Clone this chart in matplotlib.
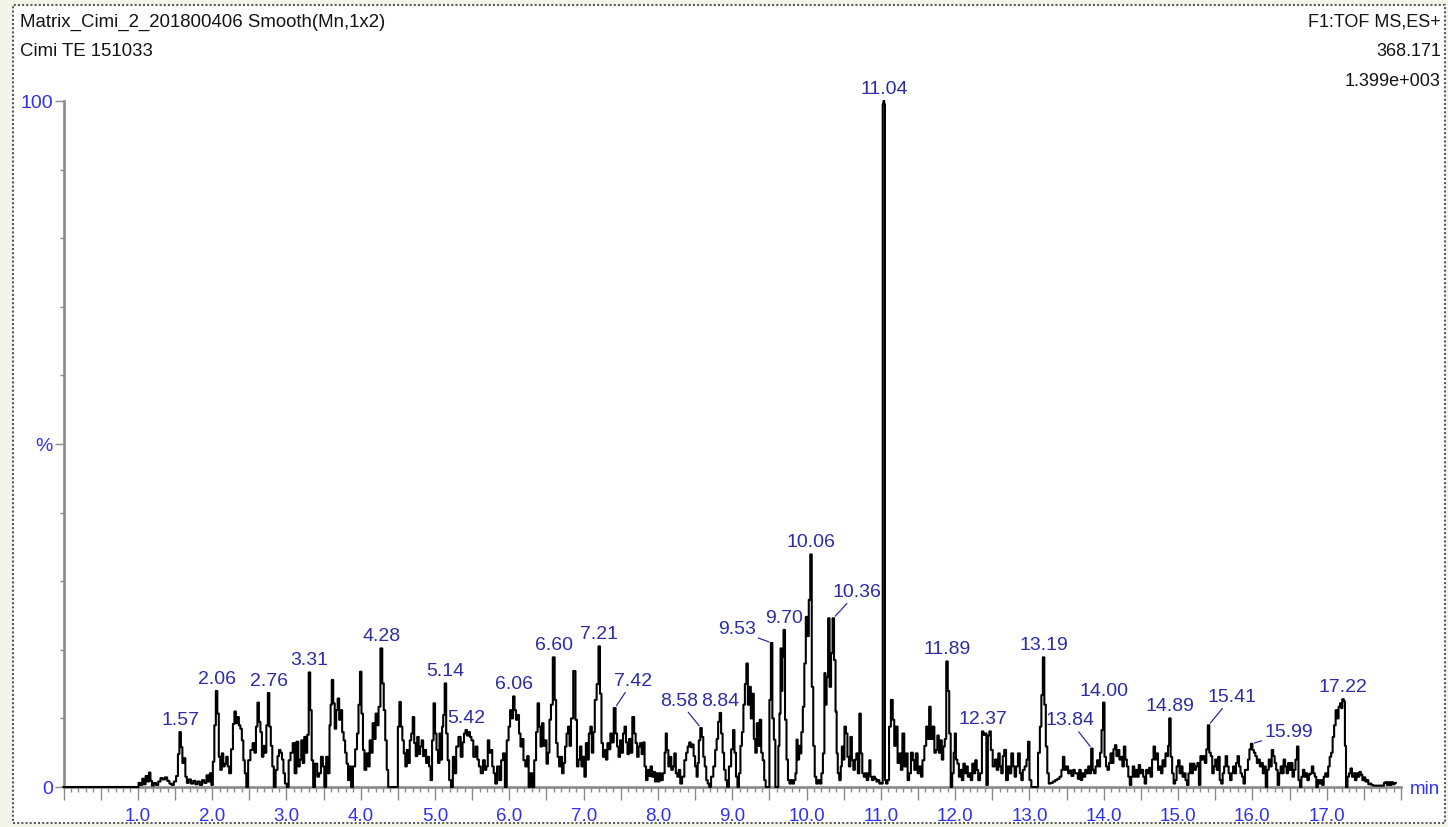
import matplotlib
matplotlib.use('Agg')
import numpy as np
import matplotlib.pyplot as plt
from matplotlib.ticker import MultipleLocator, FuncFormatter
from matplotlib.patches import Rectangle

plt.rcParams['font.family'] = ['Liberation Sans', 'DejaVu Sans']

# Header lines of the chromatogram
title_left = ['Matrix_Cimi_2_201800406 Smooth(Mn,1x2)', 'Cimi TE 151033']
title_right = ['F1:TOF MS,ES+', '368.171', '1.399e+003']

# Labelled peaks: retention time (min) and relative intensity (%)
peak_rt = [1.57, 2.06, 2.76, 3.31, 4.28, 5.14, 5.42, 6.06, 6.60, 7.21, 7.42, 8.58, 8.84,
           9.53, 9.70, 10.06, 10.36, 11.04, 11.89, 12.37, 13.19, 13.84, 14.00, 14.89,
           15.41, 15.99, 17.22]
peak_pct = [8.0, 14.0, 13.7, 16.7, 20.2, 15.1, 8.3, 13.2, 18.9, 20.5, 11.5, 8.6, 10.8,
            21.0, 22.9, 33.9, 24.6, 100.0, 18.3, 8.1, 18.9, 5.6, 12.3, 10.0,
            9.0, 6.3, 12.8]

# Trace between the labelled peaks, (min, %)
seg_0_2 = [(0.00, 0), (1.00, 0), (1.02, 0.6), (1.05, 0.3), (1.07, 1.2), (1.09, 0.4), (1.12, 1.6),
           (1.14, 0.8), (1.16, 2.1), (1.18, 0.9), (1.20, 0.2), (1.23, 0.6), (1.26, 0.3), (1.29, 0.8),
           (1.32, 1.3), (1.35, 1.1), (1.38, 1.4), (1.41, 0.9), (1.44, 0.5), (1.47, 0.3), (1.50, 0.8),
           (1.53, 1.6), (1.55, 4.8), (1.59, 5.8), (1.61, 3.5), (1.63, 4.2), (1.65, 1.5), (1.67, 0.6),
           (1.70, 1.1), (1.73, 0.5), (1.76, 0.9), (1.79, 0.4), (1.82, 0.8), (1.85, 0.3), (1.88, 1.0),
           (1.91, 0.6), (1.94, 1.7), (1.96, 0.8), (1.98, 2.0), (2.00, 0.3)]

seg_2_4 = [(2.02, 3.7), (2.04, 9.0), (2.08, 10.7), (2.10, 4.4), (2.12, 2.5), (2.14, 4.9), (2.16, 3.0),
           (2.18, 3.4), (2.20, 4.4), (2.22, 3.0), (2.24, 2.0), (2.27, 5.5), (2.29, 9.2), (2.31, 11.0),
           (2.33, 9.3), (2.35, 10.2), (2.37, 9.0), (2.39, 8.5), (2.41, 6.8), (2.43, 3.9), (2.45, 2.0),
           (2.47, 0.0), (2.50, 3.9), (2.53, 5.4), (2.56, 6.4), (2.58, 5.0), (2.60, 8.8), (2.62, 12.3),
           (2.64, 9.5), (2.66, 8.0), (2.68, 4.4), (2.70, 6.0), (2.72, 5.0), (2.74, 9.0), (2.78, 8.8),
           (2.80, 6.0), (2.82, 3.0), (2.84, 0.0), (2.87, 2.5), (2.89, 4.5), (2.91, 5.4), (2.93, 5.0),
           (2.95, 4.0), (2.97, 2.0), (2.99, 0.5), (3.02, 0.0), (3.04, 3.9), (3.07, 5.0), (3.10, 6.4),
           (3.12, 2.0), (3.15, 6.6), (3.17, 3.0), (3.19, 4.0), (3.21, 6.8), (3.23, 3.5), (3.25, 7.3),
           (3.27, 5.0), (3.29, 7.6), (3.33, 11.2), (3.35, 3.9), (3.37, 0.0), (3.40, 3.4), (3.43, 1.5),
           (3.45, 2.0), (3.48, 4.4), (3.50, 3.0), (3.52, 0.0), (3.55, 4.4), (3.57, 2.0), (3.59, 9.0),
           (3.60, 12.0), (3.62, 15.6), (3.64, 12.2), (3.66, 8.5), (3.68, 11.2), (3.70, 12.9),
           (3.72, 9.8), (3.74, 11.2), (3.76, 8.0), (3.78, 6.8), (3.80, 5.0), (3.82, 3.4), (3.84, 1.0),
           (3.86, 3.0), (3.88, 0.0), (3.91, 3.0), (3.94, 5.5), (3.96, 7.8), (3.98, 12.0)]

seg_4_6 = [(4.00, 16.8), (4.02, 10.7), (4.04, 5.4), (4.06, 2.5), (4.09, 4.9), (4.11, 3.0), (4.13, 6.8),
           (4.15, 5.0), (4.17, 9.3), (4.19, 7.0), (4.21, 10.7), (4.23, 9.0), (4.25, 11.7), (4.30, 15.1),
           (4.32, 11.2), (4.34, 6.8), (4.36, 2.5), (4.38, 0.0), (4.49, 0.0), (4.51, 8.8), (4.53, 12.4),
           (4.55, 8.8), (4.57, 6.8), (4.59, 4.9), (4.61, 3.0), (4.63, 5.4), (4.65, 3.5), (4.67, 6.8),
           (4.69, 7.8), (4.71, 10.2), (4.73, 6.4), (4.75, 4.5), (4.77, 7.3), (4.79, 4.8), (4.81, 5.9),
           (4.83, 6.8), (4.85, 4.5), (4.87, 5.4), (4.89, 3.5), (4.91, 4.4), (4.93, 3.0), (4.95, 1.0),
           (4.97, 6.8), (4.99, 12.2), (5.01, 7.8), (5.03, 5.4), (5.05, 3.5), (5.07, 7.8), (5.09, 4.0),
           (5.10, 8.8), (5.12, 10.5), (5.16, 7.8), (5.18, 3.9), (5.20, 1.0), (5.23, 0.0), (5.25, 4.4),
           (5.27, 2.0), (5.30, 5.9), (5.33, 7.3), (5.36, 4.4), (5.38, 6.5), (5.40, 7.8), (5.44, 7.5),
           (5.46, 8.0), (5.48, 7.3), (5.50, 6.8), (5.53, 4.4), (5.56, 5.9), (5.58, 4.0), (5.60, 3.0),
           (5.63, 2.0), (5.66, 3.9), (5.68, 2.5), (5.70, 3.0), (5.72, 6.8), (5.74, 5.0), (5.76, 5.4),
           (5.78, 3.0), (5.80, 2.0), (5.82, 0.5), (5.85, 3.0), (5.88, 1.0), (5.90, 3.9), (5.93, 4.9),
           (5.95, 0.0), (5.98, 6.8)]

seg_6_8 = [(6.00, 8.8), (6.02, 11.2), (6.04, 10.0), (6.08, 11.2), (6.10, 9.8), (6.12, 10.5), (6.14, 7.8),
           (6.16, 5.9), (6.18, 7.0), (6.20, 3.9), (6.23, 3.0), (6.25, 4.5), (6.27, 0.0), (6.30, 2.0),
           (6.32, 0.0), (6.35, 3.9), (6.37, 8.0), (6.39, 12.2), (6.41, 8.8), (6.43, 5.9), (6.45, 9.3),
           (6.47, 6.0), (6.49, 6.8), (6.51, 3.4), (6.53, 5.0), (6.55, 9.8), (6.57, 12.0), (6.62, 12.7),
           (6.64, 6.4), (6.66, 4.4), (6.68, 3.0), (6.70, 4.4), (6.72, 2.0), (6.74, 3.5), (6.76, 5.9),
           (6.78, 7.8), (6.80, 8.8), (6.82, 6.0), (6.84, 10.0), (6.88, 16.9), (6.90, 9.8), (6.92, 3.0),
           (6.94, 4.0), (6.96, 5.9), (6.98, 3.0), (7.00, 4.4), (7.02, 1.5), (7.04, 6.4), (7.06, 4.0),
           (7.08, 7.8), (7.10, 8.8), (7.12, 5.0), (7.14, 8.0), (7.16, 12.7), (7.19, 15.0), (7.23, 13.6),
           (7.25, 6.4), (7.27, 4.4), (7.29, 5.4), (7.31, 4.0), (7.33, 6.4), (7.35, 5.5), (7.37, 7.8),
           (7.39, 6.5), (7.44, 7.8), (7.46, 5.9), (7.48, 4.4), (7.50, 6.8), (7.52, 5.0), (7.54, 7.8),
           (7.56, 8.8), (7.58, 6.5), (7.60, 4.8), (7.62, 7.0), (7.64, 5.0), (7.67, 10.2), (7.69, 7.8),
           (7.71, 6.4), (7.73, 4.4), (7.75, 5.9), (7.77, 6.4), (7.79, 4.8), (7.81, 6.5), (7.83, 3.0),
           (7.85, 1.0), (7.87, 2.5), (7.89, 1.6), (7.91, 3.0), (7.93, 1.5), (7.95, 2.2), (7.97, 0.8),
           (7.99, 2.0)]

seg_8_10 = [(8.01, 0.8), (8.03, 2.0), (8.05, 1.0), (8.08, 2.0), (8.10, 5.0), (8.11, 7.8), (8.13, 5.4),
            (8.15, 3.0), (8.17, 4.4), (8.19, 2.5), (8.21, 3.0), (8.23, 4.9), (8.25, 2.0), (8.27, 1.5),
            (8.29, 2.5), (8.31, 0.5), (8.34, 1.5), (8.37, 3.9), (8.39, 5.0), (8.41, 5.9), (8.43, 6.5),
            (8.45, 5.8), (8.47, 6.2), (8.49, 4.5), (8.51, 3.0), (8.53, 1.5), (8.54, 3.5), (8.56, 6.8),
            (8.60, 7.3), (8.62, 4.4), (8.64, 3.0), (8.66, 1.0), (8.68, 0.5), (8.70, 0.0), (8.73, 1.5),
            (8.76, 3.0), (8.78, 5.4), (8.80, 7.0), (8.82, 9.5), (8.86, 7.8), (8.88, 5.0), (8.90, 2.5),
            (8.92, 1.0), (8.94, 0.0), (8.97, 3.0), (9.00, 5.5), (9.02, 8.3), (9.04, 5.0), (9.06, 1.5),
            (9.08, 0.0), (9.10, 2.0), (9.12, 6.0), (9.14, 8.0), (9.16, 12.0), (9.18, 15.0), (9.20, 18.0),
            (9.22, 12.0), (9.24, 14.6), (9.26, 10.0), (9.28, 13.6), (9.30, 7.0), (9.32, 5.0), (9.34, 9.3),
            (9.36, 6.0), (9.38, 9.8), (9.40, 5.0), (9.42, 3.9), (9.44, 1.0), (9.46, 0.0), (9.49, 0.0),
            (9.51, 12.7), (9.55, 10.0), (9.57, 6.9), (9.59, 0.0), (9.61, 0.0), (9.63, 6.0), (9.64, 10.7),
            (9.66, 20.2), (9.67, 14.0), (9.68, 19.0), (9.72, 9.8), (9.74, 4.0), (9.76, 1.0), (9.78, 0.5),
            (9.80, 1.0), (9.82, 0.5), (9.84, 1.0), (9.86, 2.0), (9.87, 6.9), (9.89, 4.0), (9.91, 6.0),
            (9.92, 4.9), (9.94, 8.0), (9.96, 11.7), (9.98, 18.0)]

seg_10_12 = [(10.00, 24.8), (10.02, 22.0), (10.04, 27.3), (10.08, 14.6), (10.10, 6.0), (10.12, 1.5),
             (10.14, 0.5), (10.17, 1.0), (10.19, 0.5), (10.21, 2.0), (10.23, 4.9), (10.25, 16.6),
             (10.26, 12.0), (10.28, 16.0), (10.30, 24.6), (10.32, 14.6), (10.34, 19.5), (10.38, 18.5),
             (10.40, 11.0), (10.41, 4.9), (10.43, 2.0), (10.45, 1.0), (10.47, 3.0), (10.48, 5.9),
             (10.50, 4.0), (10.52, 8.8), (10.54, 7.8), (10.56, 4.4), (10.58, 3.0), (10.60, 7.3),
             (10.62, 3.9), (10.64, 2.5), (10.66, 4.0), (10.68, 4.9), (10.70, 2.0), (10.72, 10.7),
             (10.74, 4.9), (10.76, 2.0), (10.78, 1.5), (10.80, 2.0), (10.82, 1.0), (10.84, 2.0),
             (10.85, 3.9), (10.87, 1.5), (10.89, 1.0), (10.91, 1.5), (10.93, 1.2), (10.95, 0.8),
             (10.97, 1.0), (10.99, 0.5), (11.01, 0.6), (11.02, 0.5), (11.03, 99.5), (11.05, 99.5),
             (11.06, 1.0), (11.08, 0.5), (11.10, 1.0), (11.12, 8.8), (11.15, 12.7), (11.17, 9.8),
             (11.19, 6.0), (11.21, 8.8), (11.24, 3.5), (11.26, 4.9), (11.28, 2.5), (11.30, 7.8),
             (11.33, 3.0), (11.35, 4.9), (11.37, 1.0), (11.39, 2.0), (11.42, 5.0), (11.44, 3.9),
             (11.46, 2.5), (11.48, 4.9), (11.51, 2.0), (11.53, 3.0), (11.55, 1.5), (11.57, 3.9),
             (11.60, 6.0), (11.62, 8.8), (11.64, 7.0), (11.66, 11.7), (11.68, 7.0), (11.71, 8.8),
             (11.73, 5.0), (11.75, 5.4), (11.77, 7.5), (11.79, 5.0), (11.81, 6.8), (11.83, 4.0),
             (11.85, 5.9), (11.87, 7.0), (11.91, 14.0), (11.93, 7.8), (11.95, 0.0), (11.97, 2.0),
             (11.99, 5.0)]

seg_12_14 = [(12.00, 7.8), (12.02, 4.0), (12.04, 3.4), (12.06, 1.5), (12.08, 2.5), (12.10, 1.0),
             (12.12, 3.4), (12.14, 2.0), (12.16, 3.0), (12.18, 1.5), (12.20, 2.0), (12.22, 1.0),
             (12.24, 3.4), (12.26, 2.0), (12.28, 3.9), (12.30, 2.5), (12.32, 1.0), (12.35, 2.0),
             (12.39, 7.6), (12.41, 7.8), (12.43, 0.3), (12.45, 7.5), (12.47, 8.1), (12.49, 5.4),
             (12.52, 3.0), (12.55, 4.0), (12.57, 2.5), (12.59, 4.9), (12.61, 3.0), (12.63, 2.0),
             (12.65, 4.5), (12.67, 5.4), (12.70, 1.0), (12.72, 3.0), (12.74, 2.0), (12.77, 4.9),
             (12.79, 3.0), (12.81, 1.5), (12.83, 3.0), (12.86, 4.9), (12.88, 2.0), (12.90, 1.0),
             (12.92, 2.5), (12.95, 3.0), (12.97, 4.0), (12.99, 6.6), (13.01, 1.0), (13.04, 0.0),
             (13.10, 0.0), (13.13, 5.0), (13.15, 8.8), (13.17, 13.4), (13.21, 12.0), (13.23, 5.9),
             (13.25, 2.0), (13.27, 0.5), (13.30, 0.6), (13.33, 0.8), (13.36, 1.0), (13.39, 1.2),
             (13.42, 1.5), (13.44, 2.5), (13.46, 4.4), (13.48, 2.5), (13.51, 3.0), (13.53, 2.0),
             (13.55, 2.4), (13.58, 1.6), (13.60, 2.5), (13.62, 2.0), (13.64, 2.0), (13.66, 1.2),
             (13.68, 2.5), (13.70, 1.0), (13.72, 2.0), (13.74, 1.5), (13.76, 2.5), (13.78, 2.0),
             (13.80, 3.0), (13.82, 2.0), (13.86, 2.5), (13.88, 2.0), (13.90, 3.0), (13.92, 3.9),
             (13.94, 3.0), (13.96, 5.0), (13.98, 8.3)]

seg_14_18 = [(14.02, 4.4), (14.04, 3.0), (14.06, 2.5), (14.08, 3.5), (14.10, 4.9), (14.12, 3.5),
             (14.14, 5.5), (14.16, 6.1), (14.18, 4.5), (14.20, 5.4), (14.22, 4.0), (14.24, 4.4),
             (14.26, 3.0), (14.28, 5.9), (14.30, 4.0), (14.32, 3.0), (14.34, 1.5), (14.36, 0.3),
             (14.38, 1.5), (14.40, 3.0), (14.42, 1.5), (14.44, 2.5), (14.46, 1.5), (14.48, 3.2),
             (14.50, 2.0), (14.52, 2.5), (14.54, 1.5), (14.56, 0.5), (14.58, 2.5), (14.60, 2.0),
             (14.62, 2.8), (14.64, 1.5), (14.66, 4.0), (14.68, 5.9), (14.70, 4.0), (14.72, 4.9),
             (14.74, 2.5), (14.76, 3.0), (14.78, 2.0), (14.80, 3.9), (14.82, 3.0), (14.84, 4.9),
             (14.86, 4.5), (14.87, 6.0), (14.91, 4.4), (14.93, 2.0), (14.95, 0.5), (14.97, 1.0),
             (14.99, 3.0), (15.01, 3.9), (15.03, 2.0), (15.05, 3.0), (15.07, 1.5), (15.09, 2.0),
             (15.11, 1.0), (15.13, 0.3), (15.15, 2.0), (15.17, 3.4), (15.19, 2.0), (15.21, 3.4),
             (15.23, 2.5), (15.25, 3.0), (15.27, 3.5), (15.29, 0.3), (15.31, 4.5), (15.33, 4.0),
             (15.35, 4.5), (15.37, 3.5), (15.39, 5.5), (15.43, 5.0), (15.45, 4.5), (15.47, 2.0),
             (15.49, 3.0), (15.51, 4.0), (15.53, 2.5), (15.55, 4.4), (15.57, 1.0), (15.59, 0.5),
             (15.61, 2.0), (15.63, 3.0), (15.65, 4.5), (15.67, 3.0), (15.69, 2.0), (15.71, 1.0),
             (15.73, 2.0), (15.75, 3.0), (15.77, 2.0), (15.79, 3.5), (15.81, 4.5), (15.83, 3.0),
             (15.85, 2.0), (15.87, 1.5), (15.89, 0.5), (15.91, 2.5), (15.93, 2.5), (15.95, 4.0),
             (15.97, 5.5), (16.01, 5.4), (16.03, 5.0), (16.05, 4.5), (16.07, 3.5), (16.09, 4.0),
             (16.11, 3.0), (16.13, 3.5), (16.15, 2.0), (16.17, 3.0), (16.19, 0.0), (16.21, 2.5),
             (16.23, 4.0), (16.25, 3.0), (16.27, 5.4), (16.29, 4.5), (16.31, 3.5), (16.33, 2.5),
             (16.35, 0.3), (16.37, 2.0), (16.39, 3.0), (16.41, 2.0), (16.43, 4.0), (16.45, 3.0),
             (16.47, 2.0), (16.49, 3.5), (16.51, 2.5), (16.53, 3.5), (16.55, 1.5), (16.57, 2.5),
             (16.59, 4.0), (16.61, 5.9), (16.63, 1.0), (16.65, 0.0), (16.67, 1.5), (16.69, 2.5),
             (16.71, 1.5), (16.73, 2.0), (16.75, 1.0), (16.77, 1.8), (16.79, 2.0), (16.81, 3.0),
             (16.83, 2.0), (16.85, 1.5), (16.87, 0.0), (16.89, 1.0), (16.91, 0.5), (16.93, 1.0),
             (16.95, 0.3), (16.97, 1.5), (16.99, 2.0), (17.01, 1.5), (17.03, 3.0), (17.05, 4.4),
             (17.07, 5.0), (17.09, 7.3), (17.11, 9.0), (17.13, 11.2), (17.15, 10.0), (17.17, 11.7),
             (17.19, 12.2), (17.20, 11.5), (17.24, 12.5), (17.25, 6.0), (17.27, 0.0), (17.29, 1.5),
             (17.31, 2.0), (17.33, 2.7), (17.35, 1.5), (17.37, 2.0), (17.39, 1.0), (17.41, 2.0),
             (17.43, 1.5), (17.45, 2.2), (17.47, 1.8), (17.49, 1.0), (17.51, 1.4), (17.53, 0.8),
             (17.55, 1.0), (17.57, 0.4), (17.59, 0.5), (17.61, 0.3), (17.64, 0.2), (17.70, 0.2),
             (17.76, 0.2), (17.78, 0.6), (17.80, 0.7), (17.82, 0.3), (17.84, 0.7), (17.86, 0.3),
             (17.88, 0.7), (17.90, 0.4), (17.93, 0.6)]

# label offsets (pixels) for labels drawn with a leader line
leader_px = {7.42: (18, 27), 8.58: (-22, 27), 9.53: (-35, 13), 10.36: (24, 26),
             13.84: (-22, 28), 15.41: (23, 28), 15.99: (37, 11)}

W, H = 1448, 827
axis_grey = '#8a8a8a'
tick_blue = '#3030f4'
peak_blue = '#2c2ca8'

fig = plt.figure(figsize=(W / 100, H / 100), dpi=100, facecolor='#f3f5e9')
fig.patches.append(Rectangle((13 / W, 1 - 823 / H), (1445 - 13) / W, (823 - 5) / H,
                             transform=fig.transFigure, facecolor='white',
                             edgecolor='#5c5c5c', lw=1.5, ls=(0, (1, 1)), zorder=-5))

ax = fig.add_axes([63.5 / W, 1 - 787 / H, (1401 - 63.5) / W, (787 - 101) / H])
ax.patch.set_visible(False)

# merge the trace with the labelled apex points
pts = seg_0_2 + seg_2_4 + seg_4_6 + seg_6_8 + seg_8_10 + seg_10_12 + seg_12_14 + seg_14_18
pts = pts + list(zip(peak_rt, peak_pct))
pts.sort(key=lambda p: p[0])
rt = np.array([p[0] for p in pts])
pct = np.array([p[1] for p in pts])

ax.plot(rt, pct, color='black', lw=1.5, drawstyle='steps-mid', zorder=3, clip_on=False)

ax.set_xlim(0, 18.0)
ax.set_ylim(0, 100)

for side in ['top', 'right']:
    ax.spines[side].set_visible(False)
for side in ['left', 'bottom']:
    ax.spines[side].set_color(axis_grey)
    ax.spines[side].set_linewidth(1.9)

ax.xaxis.set_major_locator(MultipleLocator(0.5))
ax.xaxis.set_minor_locator(MultipleLocator(0.1))
ax.xaxis.set_major_formatter(FuncFormatter(
    lambda x, pos: f'{x:.1f}' if 1 <= x < 17.9 and abs(x - round(x)) < 1e-6 else ''))
ax.tick_params(axis='x', which='major', length=9, width=1.0, color=axis_grey, pad=6,
               labelsize=13.5, labelcolor=tick_blue)
ax.tick_params(axis='x', which='minor', length=3.6, width=1.0, color=axis_grey)

ax.set_yticks([0, 50, 100])
ax.set_yticklabels(['0', '%', '100'])
ax.yaxis.set_minor_locator(MultipleLocator(10))
ax.tick_params(axis='y', which='major', length=6.5, width=1.0, color=axis_grey, pad=1,
               labelsize=14, labelcolor=tick_blue)
ax.tick_params(axis='y', which='minor', length=3, width=1.0, color=axis_grey)

# peak retention time labels
for t, v in zip(peak_rt, peak_pct):
    txt = f'{t:.2f}'
    if t in leader_px:
        dx, dy = leader_px[t]
        ax.annotate(txt, xy=(t, v), xytext=(dx, dy), textcoords='offset pixels',
                    ha='center', va='center', fontsize=14, color=peak_blue,
                    arrowprops=dict(arrowstyle='-', color=peak_blue, lw=0.9,
                                    shrinkA=0, shrinkB=2))
    else:
        ax.annotate(txt, xy=(t, v), xytext=(0, 7), textcoords='offset pixels',
                    ha='center', va='baseline', fontsize=14, color=peak_blue)

fig.text(1410 / W, 1 - 790 / H, 'min', ha='left', va='center', fontsize=13.5, color=tick_blue)

for i, s in enumerate(title_left):
    fig.text(20 / W, 1 - (22 + 30 * i) / H, s, ha='left', va='center', fontsize=13.4,
             color='#141414')
for i, s in enumerate(title_right):
    fig.text(1441 / W, 1 - (22 + 29.5 * i) / H, s, ha='right', va='center', fontsize=13,
             color='#141414')

fig.savefig('out.png', dpi=100, facecolor=fig.get_facecolor())
